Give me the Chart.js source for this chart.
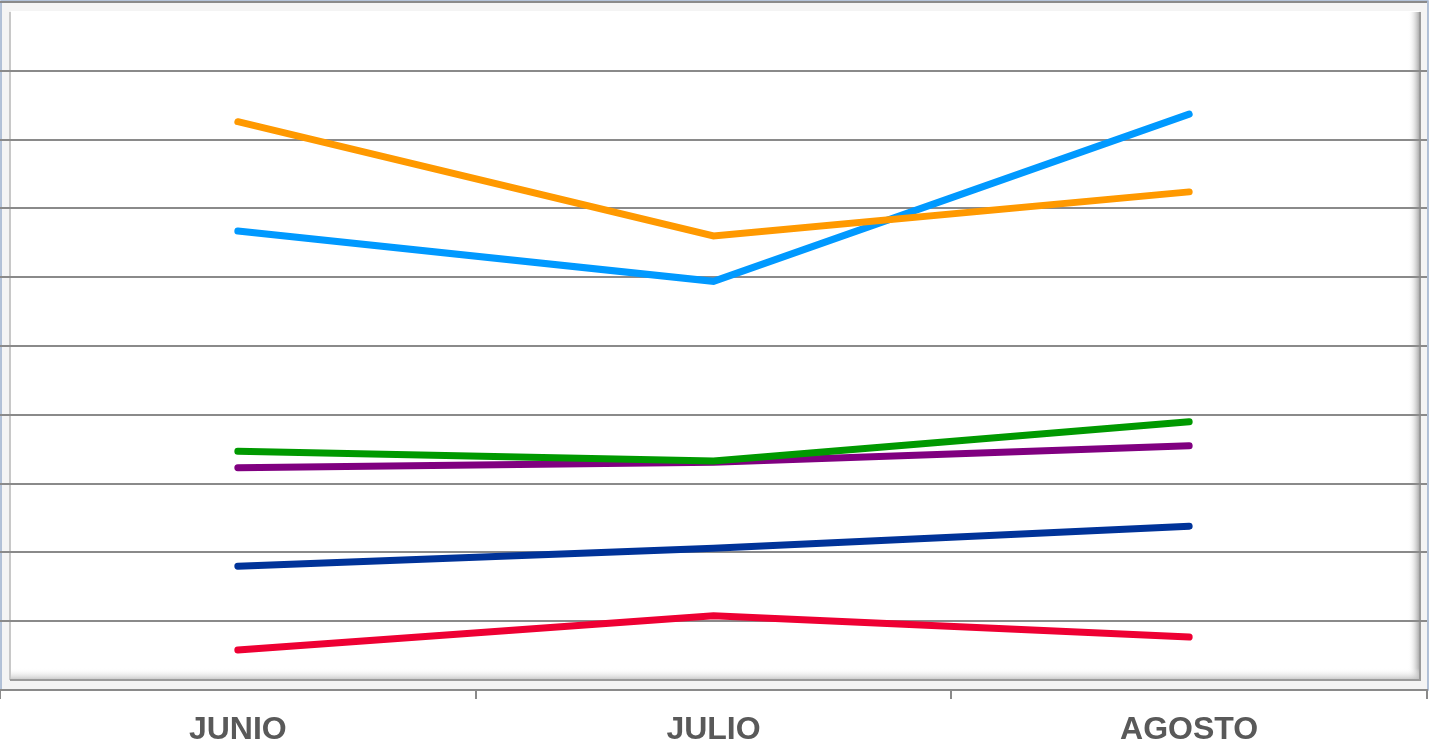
<!DOCTYPE html>
<html>
<head>
<meta charset="utf-8">
<script src="https://cdn.jsdelivr.net/npm/chart.js@4/dist/chart.umd.min.js"></script>
<style>
html,body{margin:0;padding:0;background:#fff;}
#wrap{width:1430px;height:747px;position:relative;}
</style>
</head>
<body>
<div id="wrap"><canvas id="c" width="1430" height="747"></canvas></div>
<script>
const categories = ['JUNIO', 'JULIO', 'AGOSTO'];
const serieNaranja = [8.26, 6.60, 7.24];
const serieAzulClaro = [6.67, 5.94, 8.37];
const serieVerde = [3.47, 3.33, 3.90];
const serieMorado = [3.23, 3.31, 3.55];
const serieAzulOscuro = [1.80, 2.06, 2.38];
const serieRojo = [0.58, 1.08, 0.77];
const yMin = 0, yMax = 10, yStep = 1;

const framePlugin = {
  id: 'frame',
  beforeDraw(chart) {
    const ctx = chart.ctx;
    const a = chart.chartArea;
    ctx.save();
    ctx.fillStyle = '#ffffff';
    ctx.fillRect(0, 0, chart.width, chart.height);
    const L = 1, T = 1, R = 1428, B = a.bottom;
    ctx.fillStyle = '#f4f4f4';
    ctx.fillRect(L, T, R - L, B - T);
    ctx.fillStyle = '#ffffff';
    ctx.fillRect(11, 11, 1408, B - 21);
    let g = ctx.createLinearGradient(1408, 0, 1420, 0);
    g.addColorStop(0, 'rgba(255,255,255,0)');
    g.addColorStop(1, 'rgba(150,150,150,0.9)');
    ctx.fillStyle = g;
    ctx.fillRect(1408, 12, 12, B - 22);
    g = ctx.createLinearGradient(0, B - 22, 0, B - 10);
    g.addColorStop(0, 'rgba(255,255,255,0)');
    g.addColorStop(1, 'rgba(190,190,190,0.9)');
    ctx.fillStyle = g;
    ctx.fillRect(11, B - 22, 1408, 12);
    ctx.strokeStyle = '#c8c8c8';
    ctx.lineWidth = 2;
    ctx.beginPath();
    ctx.moveTo(10, 12); ctx.lineTo(10, B - 10);
    ctx.stroke();
    ctx.strokeStyle = '#9a9a9a';
    ctx.beginPath();
    ctx.moveTo(10, B - 10); ctx.lineTo(1420, B - 10); ctx.lineTo(1420, 12);
    ctx.stroke();
    ctx.strokeStyle = '#9aaecb';
    ctx.lineWidth = 1.5;
    ctx.strokeRect(L, T, R - L, B - T);
    ctx.restore();
  }
};

const mk = (label, data, color) => ({
  label, data, borderColor: color, backgroundColor: color,
  borderWidth: 7, pointRadius: 0, pointHoverRadius: 0, tension: 0,
  borderCapStyle: 'round', borderJoinStyle: 'miter', fill: false
});

new Chart(document.getElementById('c'), {
  type: 'line',
  data: {
    labels: categories,
    datasets: [
      mk('Naranja', serieNaranja, '#FF9900'),
      mk('Azul claro', serieAzulClaro, '#0099FF'),
      mk('Verde', serieVerde, '#009900'),
      mk('Morado', serieMorado, '#800080'),
      mk('Azul oscuro', serieAzulOscuro, '#003399'),
      mk('Rojo', serieRojo, '#EE0033')
    ]
  },
  options: {
    responsive: false,
    animation: false,
    layout: { padding: { left: 0, right: 3, top: 2, bottom: 0 } },
    plugins: { legend: { display: false }, tooltip: { enabled: false } },
    scales: {
      x: {
        type: 'category',
        offset: true,
        afterFit(scale) { scale.height = 57; },
        grid: { display: true, drawOnChartArea: false, drawTicks: true, tickLength: 9, color: '#8a8a8a', lineWidth: 2, offset: true },
        border: { display: true, color: '#8a8a8a', width: 2 },
        ticks: { color: '#595959', padding: 12, font: { family: 'Liberation Sans, Arial, sans-serif', size: 32, weight: 'bold' } }
      },
      y: {
        min: yMin, max: yMax,
        ticks: { display: false, stepSize: yStep },
        grid: { color: '#8a8a8a', lineWidth: 2, drawTicks: false },
        border: { display: false }
      }
    }
  },
  plugins: [framePlugin]
});
</script>
</body>
</html>
